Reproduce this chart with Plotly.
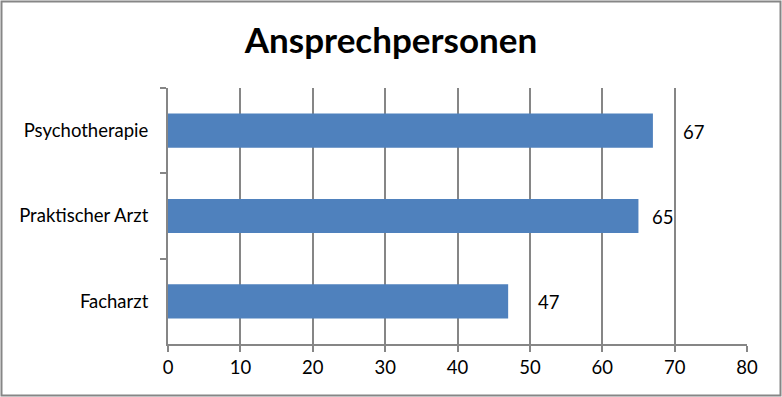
import plotly.graph_objects as go

categories = ["Psychotherapie", "Praktischer Arzt", "Facharzt"]
values = [67, 65, 47]
x_ticks = [0, 10, 20, 30, 40, 50, 60, 70, 80]
label_shift = [28, 12, 28]

W, H = 782, 397
ml, mr, mt, mb = 168, 35, 88, 53
pw, ph = W - ml - mr, H - mt - mb
FONT = "Lato"

fig = go.Figure()
fig.add_trace(go.Bar(
    y=categories, x=values, orientation="h",
    marker=dict(color="#4F81BD", line=dict(width=0)),
    hoverinfo="skip",
))

for c, v, s in zip(categories, values, label_shift):
    fig.add_annotation(x=v, y=c, text=str(v), showarrow=False,
                       xanchor="left", xshift=s, yshift=-1,
                       font=dict(family=FONT, size=18.5, color="#000000"))

fig.add_shape(type="rect", xref="paper", yref="paper",
              x0=-(ml - 1.5) / pw, x1=1 + (mr - 1.5) / pw,
              y0=-(mb - 1.5) / ph, y1=1 + (mt - 1.5) / ph,
              line=dict(color="#868686", width=2), layer="below")

fig.update_layout(
    width=W, height=H,
    margin=dict(l=ml, r=mr, t=mt, b=mb),
    paper_bgcolor="white", plot_bgcolor="white",
    bargap=0.6,
    showlegend=False,
    title=dict(text="<b>Ansprechpersonen</b>", x=0.5, xref="container", xanchor="center",
               y=1 - 41 / H, yanchor="middle", yref="container",
               font=dict(family=FONT, size=35, color="#000000")),
    xaxis=dict(range=[0, 80], tickvals=x_ticks, ticktext=[str(t) for t in x_ticks],
               showgrid=True, gridcolor="#868686", gridwidth=2,
               showline=True, linecolor="#868686", linewidth=2,
               ticks="outside", ticklen=6, tickwidth=2, tickcolor="#868686",
               zeroline=False, tickfont=dict(family=FONT, size=18.5, color="#000000")),
    yaxis=dict(autorange="reversed", type="category",
               showline=True, linecolor="#868686", linewidth=2,
               ticks="outside", ticklen=6, tickwidth=2, tickcolor="#868686",
               tickson="boundaries", ticklabelstandoff=14,
               showgrid=False,
               tickfont=dict(family=FONT, size=18.5, color="#000000")),
)

fig.write_html("out.html", config={"displayModeBar": False},
               post_script="document.body.style.margin='0';document.body.style.padding='0';")
